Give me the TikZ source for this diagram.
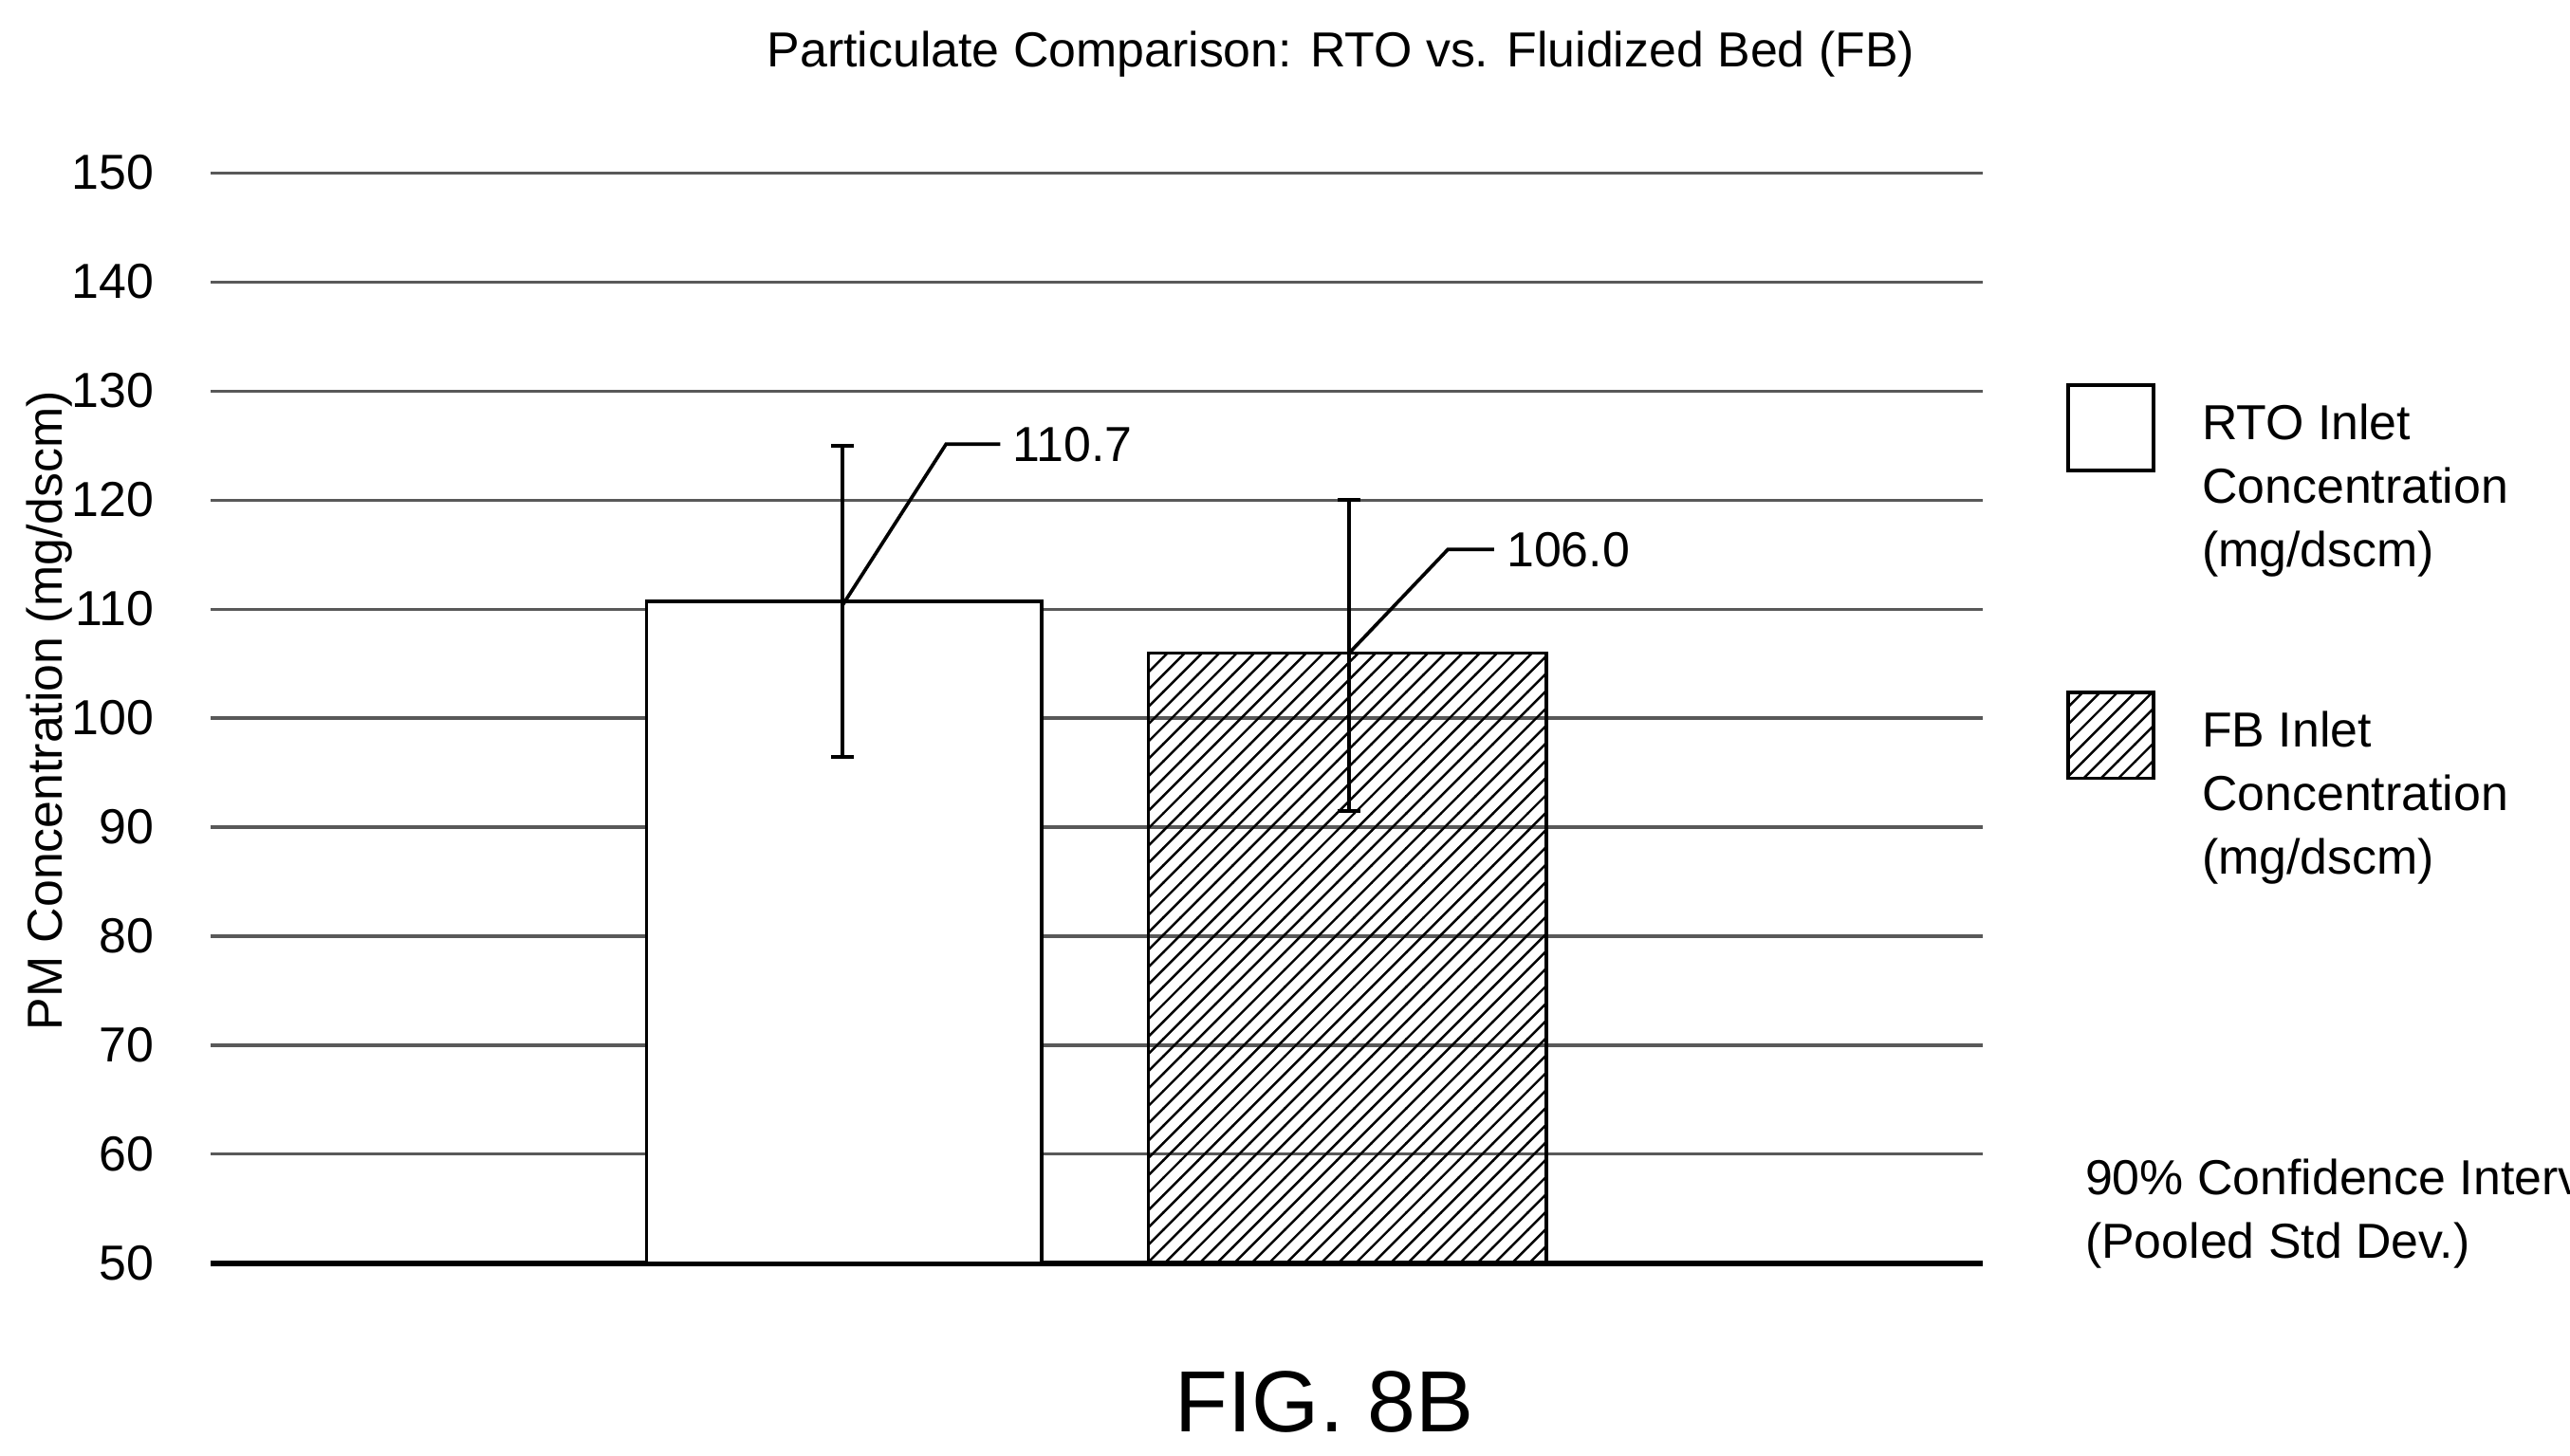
\documentclass[tikz,border=0pt]{standalone}
\usepackage{fontspec}
\setmainfont{Liberation Sans}
\usetikzlibrary{positioning, patterns}

\begin{document}
\begin{tikzpicture}[
                x=0.01cm, y=-0.01cm,
                gridline/.style={gray!70!black, line width=0.5pt},
                bar/.style={draw=black, line width=0.6pt, fill=white},
                errbar/.style={black, line width=0.6pt},
                leader/.style={black, line width=0.6pt},
                ticklabel/.style={anchor=east, font=\fontsize{8.5}{8.5}\selectfont},
                legendtext/.style={anchor=north west, align=left, font=\fontsize{8.5}{11}\selectfont},
                keybox/.style={draw, line width=0.6pt, minimum width=0.52cm, minimum height=0.52cm, inner sep=0}
            ]
            \useasboundingbox (0,0) rectangle (1562,885);

            % Title
            \node[font=\fontsize{8.5}{8.5}\selectfont] (title) at (815,33) {Particulate Comparison: RTO vs. Fluidized Bed (FB)};

            % Grid and ticks
            \foreach \v in {50,60,...,150} {
                \draw[gridline] (128,{768-(\v-50)*6.63}) -- (1205,{768-(\v-50)*6.63});
                \node[ticklabel] at (106,{768-(\v-50)*6.63}) {\v};
            }
            \draw[black, line width=1pt] (128,768) -- (1205,768);

            % Axis title
            \node[rotate=90, font=\fontsize{8.5}{8.5}\selectfont] (ytitle) at (30,432) {PM Concentration (mg/dscm)};

            % Bars
            \draw[bar] (393,768) rectangle (633,365.6);
            \draw[bar, pattern=north east lines] (698,768) rectangle (940,397);

            % Error bars
            \coordinate (rtotop) at (512,271);
            \coordinate (rtobot) at (512,460);
            \draw[errbar] (rtotop) -- (rtobot);
            \draw[errbar] (505,271) -- (519,271);
            \draw[errbar] (505,460) -- (519,460);
            \coordinate (fbtop) at (820,304);
            \coordinate (fbbot) at (820,493);
            \draw[errbar] (fbtop) -- (fbbot);
            \draw[errbar] (813,304) -- (827,304);
            \draw[errbar] (813,493) -- (827,493);

            % Value labels
            \node[anchor=west, inner sep=2pt, font=\fontsize{8.5}{8.5}\selectfont] (rtoval) at (608,270) {110.7};
            \draw[leader] (512,368) -- (575,270) -- (rtoval.west);
            \node[anchor=west, inner sep=2pt, font=\fontsize{8.5}{8.5}\selectfont] (fbval) at (908,334) {106.0};
            \draw[leader] (820,397) -- (880,334) -- (fbval.west);

            % Legend
            \node[keybox] (rtokey) at (1283,260) {};
            \node[legendtext] (rtotext) at (1326,233) {RTO Inlet\\Concentration\\(mg/dscm)};
            \node[keybox, pattern=north east lines] (fbkey) at (1283,447) {};
            \node[legendtext] (fbtext) at (1326,420) {FB Inlet\\Concentration\\(mg/dscm)};
            \node[legendtext] (conf) at (1255,692) {90\% Confidence Intervals\\(Pooled Std Dev.)};

            % Figure label
            \node[font=\fontsize{15}{15}\selectfont] (figlabel) at (805,852) {FIG. 8B};
        \end{tikzpicture}
\end{document}
